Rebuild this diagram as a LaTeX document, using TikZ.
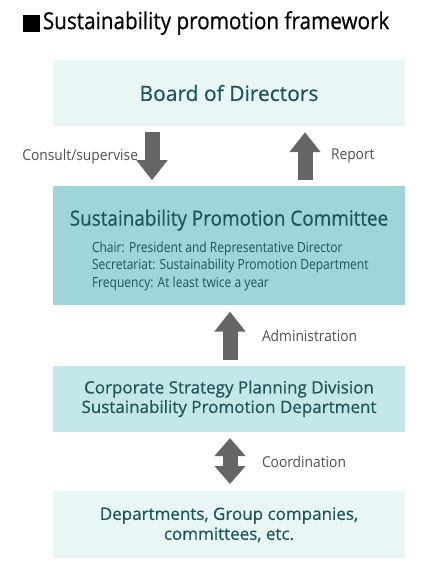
\documentclass[tikz,border=0pt]{standalone}
\usepackage{fontspec}
\setmainfont{Open Sans}
\newfontfamily\headfont[FakeStretch=0.88, FakeBold=0.6]{Open Sans}
\newfontfamily\boxfont[FakeBold=0.5]{Open Sans}
\newfontfamily\narrowfont[FakeStretch=0.9, FakeBold=0.5]{Open Sans}
\newfontfamily\detailfont[FakeStretch=0.86]{Open Sans}
\newfontfamily\labelfont[FakeStretch=0.92]{Open Sans}
\usetikzlibrary{positioning, arrows.meta}

\definecolor{palecyan}{HTML}{E9F6F6}
\definecolor{midteal}{HTML}{9ED5DA}
\definecolor{lightteal}{HTML}{C4E7E9}
\definecolor{tealtext}{HTML}{1F5557}
\definecolor{arrowgray}{HTML}{666666}
\definecolor{labelgray}{HTML}{505050}

\begin{document}
\begin{tikzpicture}[x=1pt, y=1pt,
    box/.style={fill=#1, minimum width=352pt, inner sep=0pt, text=tealtext, align=center},
    fatarrow/.style={line width=15pt, draw=arrowgray, -{Triangle[width=30pt, length=20pt]}, shorten >=6pt, shorten <=6pt},
    twoway/.style={line width=15pt, draw=arrowgray, {Triangle[width=30pt, length=18pt]}-{Triangle[width=30pt, length=18pt]}, shorten >=6pt, shorten <=7pt},
    lbl/.style={text=labelgray, font=\labelfont\fontsize{15}{18}\selectfont, inner sep=0pt, outer sep=0pt}]
    \useasboundingbox (0,0) rectangle (445,-576);

    % heading
    \node[fill=black, minimum size=17pt, inner sep=0pt] (bullet) at (31,-23) {};
    \node[right=3pt of bullet, inner sep=0pt, font=\headfont\fontsize{23.5}{26}\selectfont] (heading) {Sustainability promotion framework};

    % boxes
    \node[box=palecyan, minimum height=66pt, font=\boxfont\fontsize{21}{24}\selectfont] (board) at (229,-93) {Board of Directors};
    \node[box=midteal, minimum height=119pt, below=60pt of board] (committee) {};
    \node[box=lightteal, minimum height=66pt, below=60pt of committee, font=\boxfont\fontsize{17}{19.5}\selectfont] (corporate) {Corporate Strategy Planning Division\\Sustainability Promotion Department};
    \node[box=palecyan, minimum height=67pt, below=59pt of corporate, font=\boxfont\fontsize{17}{20}\selectfont] (depts) {Departments, Group companies,\\committees, etc.};

    % committee contents
    \node[text=tealtext, inner sep=0pt, font=\narrowfont\fontsize{21}{24}\selectfont] (spctitle) at ([yshift=-34pt]committee.north) {Sustainability Promotion Committee};
    \node[text=tealtext, inner sep=0pt, anchor=north west, align=left, font=\detailfont\fontsize{14}{17.5}\selectfont] (spcinfo) at ([xshift=39pt, yshift=-55pt]committee.north west) {Chair: President and Representative Director\\Secretariat: Sustainability Promotion Department\\Frequency: At least twice a year};

    % arrows
    \draw[fatarrow] ([xshift=-77pt]board.south) -- ([xshift=-77pt]committee.north) node[midway, left=14pt, lbl] (consult) {Consult/supervise};
    \draw[fatarrow] ([xshift=76pt]committee.north) -- ([xshift=76pt]board.south) node[midway, right=26pt, lbl] (report) {Report};
    \draw[fatarrow] ([xshift=1pt]corporate.north) -- ([xshift=1pt]committee.south) node[midway, right=32pt, lbl] (admin) {Administration};
    \draw[twoway] ([xshift=1pt]depts.north) -- ([xshift=1pt]corporate.south) node[midway, right=32pt, lbl] (coord) {Coordination};
\end{tikzpicture}
\end{document}
